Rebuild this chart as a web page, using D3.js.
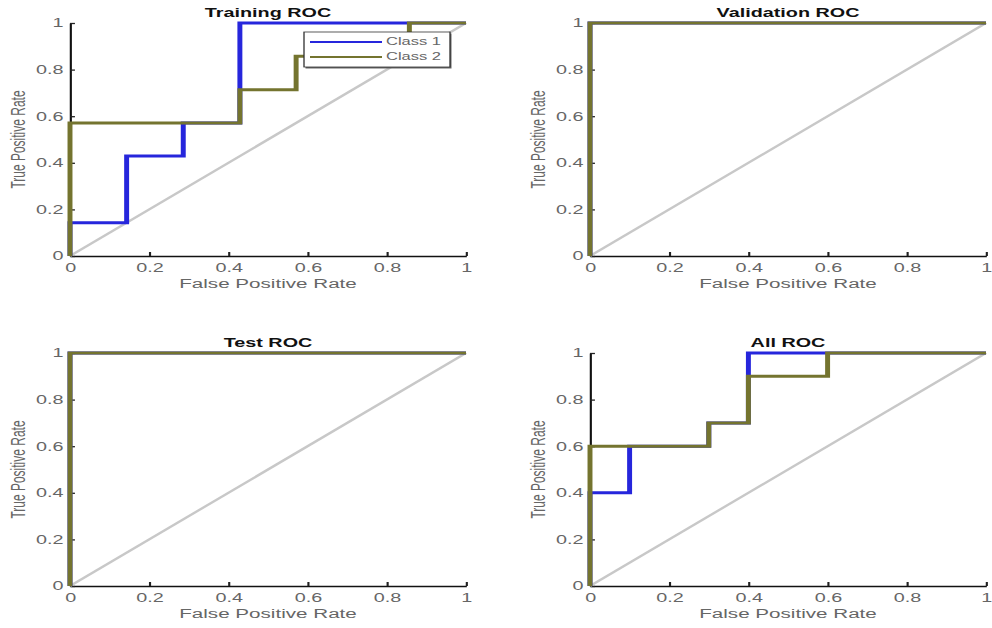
<!DOCTYPE html>
<html>
<head>
<meta charset="utf-8">
<script src="https://cdn.jsdelivr.net/npm/d3@7"></script>
<style>
    body { margin: 0; background: #fff; }
    text { font-family: "Liberation Sans", Arial, sans-serif; }
</style>
</head>
<body>
<div id="chart"></div>
<script>
// chart values
const panelTitles = ["Training ROC", "Validation ROC", "Test ROC", "All ROC"];
const classNames = ["Class 1", "Class 2"];
const tickValues = [0, 0.2, 0.4, 0.6, 0.8, 1];
const tickLabels = ["0", "0.2", "0.4", "0.6", "0.8", "1"];
const diagFpr = [0, 1];
const diagTpr = [0, 1];

const trainFpr1 = [0, 0, 0.143, 0.143, 0.286, 0.286, 0.429, 0.429, 1];
const trainTpr1 = [0, 0.143, 0.143, 0.429, 0.429, 0.571, 0.571, 1, 1];
const trainFpr2 = [0, 0, 0.429, 0.429, 0.571, 0.571, 0.857, 0.857, 1];
const trainTpr2 = [0, 0.571, 0.571, 0.714, 0.714, 0.857, 0.857, 1, 1];

const valFpr1 = [0, 0, 1];
const valTpr1 = [0, 1, 1];
const valFpr2 = [0, 0, 1];
const valTpr2 = [0, 1, 1];

const testFpr1 = [0, 0, 1];
const testTpr1 = [0, 1, 1];
const testFpr2 = [0, 0, 1];
const testTpr2 = [0, 1, 1];

const allFpr1 = [0, 0, 0.1, 0.1, 0.3, 0.3, 0.4, 0.4, 1];
const allTpr1 = [0, 0.4, 0.4, 0.6, 0.6, 0.7, 0.7, 1, 1];
const allFpr2 = [0, 0, 0.3, 0.3, 0.4, 0.4, 0.6, 0.6, 1];
const allTpr2 = [0, 0.6, 0.6, 0.7, 0.7, 0.9, 0.9, 1, 1];

const classColors = ["#2626dc", "#74742f"];

const panels = [
    { title: panelTitles[0], col: 0, row: 0, legend: true,  curves: [[trainFpr1, trainTpr1], [trainFpr2, trainTpr2]] },
    { title: panelTitles[1], col: 1, row: 0, legend: false, curves: [[valFpr1, valTpr1], [valFpr2, valTpr2]] },
    { title: panelTitles[2], col: 0, row: 1, legend: false, curves: [[testFpr1, testTpr1], [testFpr2, testTpr2]] },
    { title: panelTitles[3], col: 1, row: 1, legend: false, curves: [[allFpr1, allTpr1], [allFpr2, allTpr2]] }
];

// the picture is stretched sideways, so draw everything in a squeezed space
const sx = 1.65;
const colLeft = [70, 590];
const rowTop = [23, 353];
const plotW = 396;
const plotH = 233;

const svg = d3.select("#chart").append("svg")
    .attr("width", 992)
    .attr("height", 628);

const root = svg.append("g").attr("transform", "scale(" + sx + ",1)");

panels.forEach(p => {
    const left = colLeft[p.col] / sx;
    const right = (colLeft[p.col] + plotW) / sx;
    const top = rowTop[p.row];
    const bottom = top + plotH;

    const x = d3.scaleLinear().domain([0, 1]).range([left, right]);
    const y = d3.scaleLinear().domain([0, 1]).range([bottom, top]);

    const g = root.append("g");

    const xAxis = g.append("g")
        .attr("transform", "translate(0," + y(0) + ")")
        .call(d3.axisBottom(x).tickValues(tickValues).tickFormat((d, i) => tickLabels[i])
            .tickSizeInner(-4).tickSizeOuter(0).tickPadding(7));

    const yAxis = g.append("g")
        .attr("transform", "translate(" + x(0) + ",0)")
        .call(d3.axisLeft(y).tickValues(tickValues).tickFormat((d, i) => tickLabels[i])
            .tickSizeInner(-3).tickSizeOuter(0).tickPadding(4));

    [xAxis, yAxis].forEach(a => {
        a.select(".domain").attr("stroke", "#111").attr("stroke-width", 1.3);
        a.selectAll(".tick line").attr("stroke", "#222").attr("stroke-width", 1.3);
        a.selectAll(".tick text")
            .attr("fill", "#666")
            .style("font-size", "12px")
            .style("font-family", "'Liberation Sans', Arial, sans-serif");
    });

    // chance line
    const line = d3.line()
        .x(d => x(d[0]))
        .y(d => y(d[1]));

    g.append("path")
        .datum(d3.zip(diagFpr, diagTpr))
        .attr("d", line)
        .attr("fill", "none")
        .attr("stroke", "#c8c8c8")
        .attr("stroke-width", 2);

    p.curves.forEach((c, i) => {
        g.append("path")
            .datum(d3.zip(c[0], c[1]))
            .attr("d", line)
            .attr("fill", "none")
            .attr("stroke", classColors[i])
            .attr("stroke-width", 3)
            .attr("stroke-linejoin", "miter");
    });

    g.append("text")
        .attr("x", (left + right) / 2)
        .attr("y", top - 6)
        .attr("text-anchor", "middle")
        .style("font-size", "12px")
        .style("font-weight", "bold")
        .attr("fill", "#111")
        .text(p.title);

    g.append("text")
        .attr("x", (left + right) / 2)
        .attr("y", bottom + 32)
        .attr("text-anchor", "middle")
        .style("font-size", "12.5px")
        .attr("fill", "#666")
        .text("False Positive Rate");

    g.append("text")
        .attr("transform", "translate(" + (left - 45 / sx) + "," + (top + bottom) / 2 + ") rotate(-90)")
        .attr("text-anchor", "middle")
        .style("font-size", "12px")
        .attr("fill", "#666")
        .text("True Positive Rate");

    if (p.legend) {
        const lx = left + 234 / sx;
        const lw = 146 / sx;
        const ly = top + 9;
        const lh = 35;
        const leg = g.append("g");
        leg.append("rect")
            .attr("x", lx + 1.5 / sx).attr("y", ly + 1.5)
            .attr("width", lw).attr("height", lh)
            .attr("fill", "#666");
        leg.append("rect")
            .attr("x", lx).attr("y", ly)
            .attr("width", lw).attr("height", lh)
            .attr("fill", "#fff")
            .attr("stroke", "#333")
            .attr("stroke-width", 0.8);
        classNames.forEach((name, i) => {
            const yy = ly + 10 + i * 15;
            leg.append("line")
                .attr("x1", lx + 6 / sx).attr("x2", lx + 78 / sx)
                .attr("y1", yy).attr("y2", yy)
                .attr("stroke", classColors[i])
                .attr("stroke-width", 2);
            leg.append("text")
                .attr("x", lx + 82 / sx)
                .attr("y", yy + 3.5)
                .style("font-size", "10px")
                .attr("fill", "#666")
                .text(name);
        });
    }
});
</script>
</body>
</html>
